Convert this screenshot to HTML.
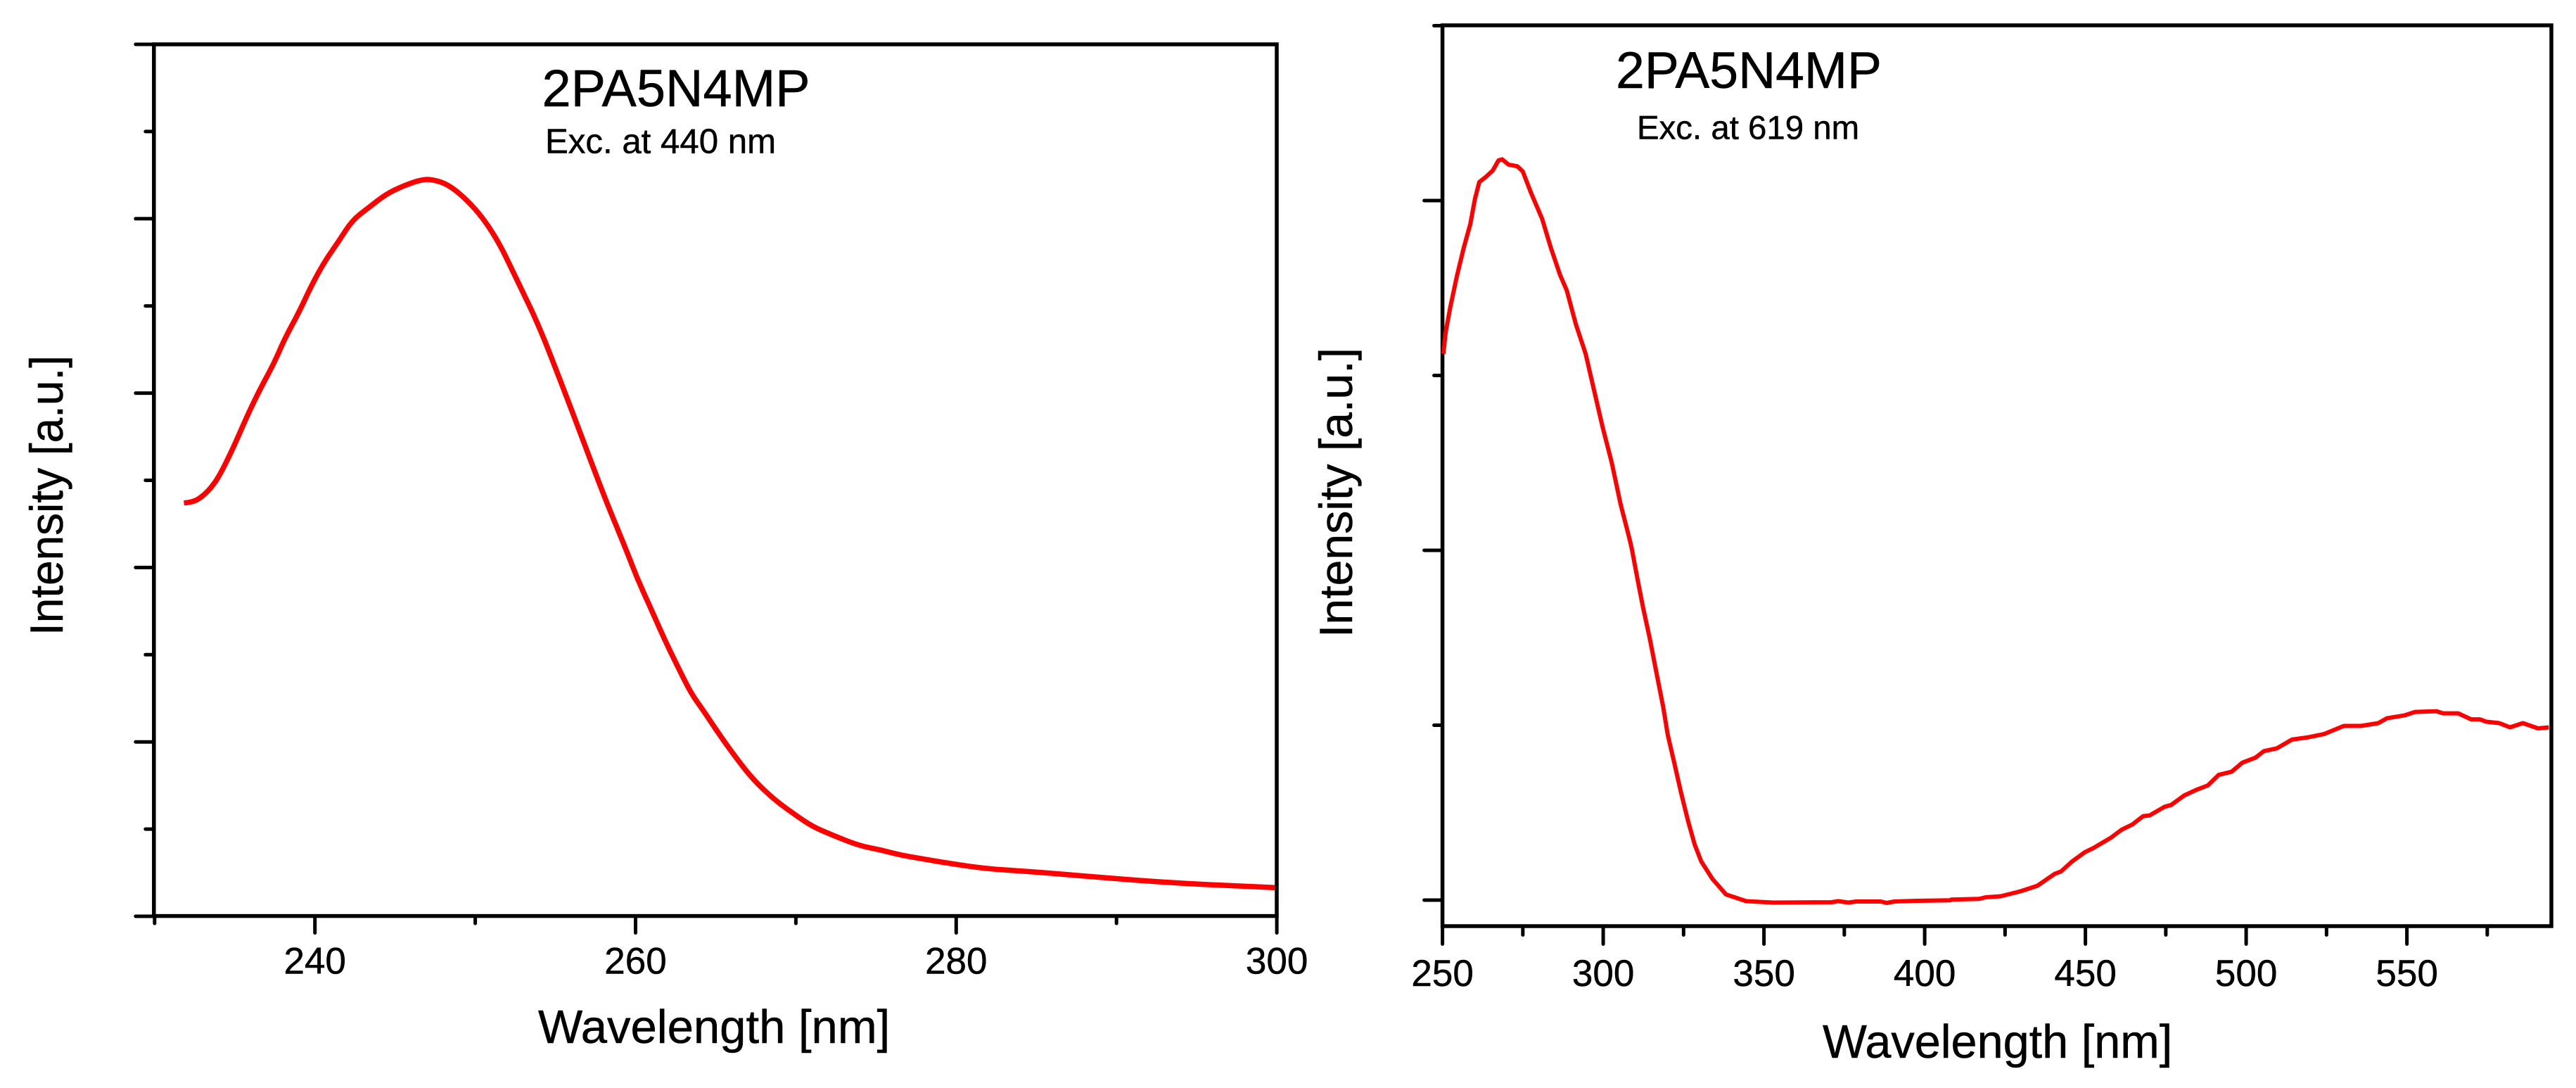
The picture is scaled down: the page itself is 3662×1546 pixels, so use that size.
<!DOCTYPE html>
<html lang="en">
<head>
<meta charset="utf-8">
<title>2PA5N4MP excitation spectra</title>
<style>
html,body{margin:0;padding:0;background:#fff;}
svg{display:block;}
text{font-family:"Liberation Sans",Arial,sans-serif;fill:#000;stroke:#000;stroke-width:0.5px;}
</style>
</head>
<body>
<svg id="chart" xmlns="http://www.w3.org/2000/svg" width="3662" height="1546" viewBox="0 0 3662 1546">
  <rect x="0" y="0" width="3662" height="1546" fill="#fff"/>

  <g id="left-panel">
    <text x="770.5" y="151" font-size="74">2PA5N4MP</text>
    <text x="775" y="217.5" font-size="49.2">Exc. at 440 nm</text>
    <text x="765" y="1482" font-size="67">Wavelength [nm]</text>
    <text transform="translate(89 903) rotate(-90)" font-size="66" textLength="398" lengthAdjust="spacingAndGlyphs">Intensity [a.u.]</text>
  </g>

  <g id="right-panel">
    <text x="2297" y="125" font-size="73.4">2PA5N4MP</text>
    <text x="2327" y="197.5" font-size="47.4">Exc. at 619 nm</text>
    <text x="2591" y="1503" font-size="66.6">Wavelength [nm]</text>
    <text transform="translate(1922 906) rotate(-90)" font-size="66" textLength="412" lengthAdjust="spacingAndGlyphs">Intensity [a.u.]</text>
  </g>
</svg>

<script>
// ---- Left panel data (wavelength in nm, intensity in a.u.) ----
const leftWavelengths = [231.83,232.39,232.95,233.51,234.07,234.9,235.75,236.59,237.42,238.13,238.96,239.8,240.64,241.48,242.32,243.3,244.42,245.54,246.66,247.36,248.34,249.46,250.52,251.56,252.54,253.94,255.34,256.74,258.14,259.4,260.09,260.93,261.77,262.61,263.45,264.23,265.24,266.38,267.38,268.64,269.9,271.03,272.29,273.93,275.32,276.58,277.84,279.6,281.87,284.39,286.9,289.42,291.94,294.46,296.98,299.87];
const leftIntensity = [47.4,47.5,48.1,49.1,50.6,53.7,57.3,60.5,63.3,66.3,69.1,72.4,75.2,77.4,79.8,81.2,82.8,83.8,84.5,84.5,83.9,82.2,80,77,73.2,67.9,61.3,54.5,47.7,42.1,38.8,35.4,31.9,28.7,25.6,23.6,20.8,17.9,15.6,13.4,11.7,10.3,9.3,8.1,7.6,7,6.6,6.05,5.46,5.15,4.79,4.4,4.04,3.74,3.53,3.29];
const leftXMajorTicks = [240,260,280,300];
const leftXMinorTicks = [230,250,270,290];
const leftYMajorTicks = [0,20,40,60,80,100];
const leftYMinorTicks = [10,30,50,70,90];

// ---- Right panel data (wavelength in nm, intensity in a.u.) ----
const rightWavelengths = [250.28,250.98,252.38,254.46,256.56,258.67,260.06,261.44,263.54,265.64,267.46,268.58,270.53,273.3,274.99,277.5,280.98,283.78,286.56,288.66,291.44,294.53,297.05,299.83,302.63,305.4,308.2,308.9,310.72,312.39,314.49,316.57,318.67,320.06,322.16,324.25,326.35,328.44,330.53,334.03,338.2,344.49,352.87,371,373.08,376.3,378.66,386.34,388.16,390.55,397.5,407.99,408.2,416.94,418.95,423.65,429.7,435.06,440.44,442.45,445.8,449.82,452.52,457.88,461.23,464.59,467.94,469.96,474.66,476.67,480.7,484.72,488.1,491.45,495.47,498.82,502.85,505.54,509.56,514.27,518.97,524.33,530.37,535.73,541.11,543.8,549.17,552.52,559.23,561.25,565.95,569.98,572.67,574.68,578.71,582.07,586.09,590.79,594.14];
const rightIntensity = [156.2,162.3,169.3,178.3,186.3,193.3,200.3,205.3,206.8,208.6,211.5,211.8,210.3,209.8,208.3,202.3,194.8,186.3,178.8,174.3,164.8,156.2,146.2,135.2,125.2,113.2,103.2,100.4,91.5,83.7,74.8,65,55.2,47.3,39,30.6,22.8,15.9,11,6,1.6,-0.3,-0.7,-0.6,-0.3,-0.7,-0.4,-0.4,-0.8,-0.4,-0.2,-0.05,0.15,0.35,0.8,1.1,2.5,4.1,7.5,8.2,11,13.7,14.9,17.8,20.1,21.6,24,24.2,26.7,27.2,29.9,31.6,32.8,35.8,36.7,39.3,40.7,42.6,43.4,45.9,46.5,47.5,49.8,49.8,50.6,52,52.8,53.8,54,53.4,53.4,51.7,51.7,51,50.6,49.4,50.6,49.1,49.4];
const rightXMajorTicks = [250,300,350,400,450,500,550];
const rightXMinorTicks = [275,325,375,425,475,525,575];
const rightYMajorTicks = [0,100,200];
const rightYMinorTicks = [50,150,250];

// ---- Axis functions ----
const leftX = w => 447.7 + 22.79 * (w - 240);
const leftY = v => 1302 - 12.39 * v;
const rightX = w => 2050.6 + 4.57 * (w - 250);
const rightY = v => 1279 - 4.97 * v;

const NS = 'http://www.w3.org/2000/svg';

function drawLine(parent, x1, y1, x2, y2, width) {
  const l = document.createElementNS(NS, 'line');
  l.setAttribute('x1', x1);
  l.setAttribute('y1', y1);
  l.setAttribute('x2', x2);
  l.setAttribute('y2', y2);
  l.setAttribute('stroke', '#000');
  l.setAttribute('stroke-width', width);
  l.setAttribute('stroke-linecap', 'round');
  parent.appendChild(l);
  return l;
}

function curvePath(xs, ys, smooth) {
  let d = 'M' + xs[0].toFixed(1) + ' ' + ys[0].toFixed(1);
  for (let i = 1; i < xs.length; i++) {
    if (smooth && i < xs.length - 1) {
      const mx = (xs[i] + xs[i + 1]) / 2;
      const my = (ys[i] + ys[i + 1]) / 2;
      d += 'Q' + xs[i].toFixed(1) + ' ' + ys[i].toFixed(1) + ' ' + mx.toFixed(1) + ' ' + my.toFixed(1);
    } else {
      d += 'L' + xs[i].toFixed(1) + ' ' + ys[i].toFixed(1);
    }
  }
  return d;
}

function drawPanel(panelId, prefix, cfg) {
  const panel = document.getElementById(panelId);

  const frame = document.createElementNS(NS, 'rect');
  
  
  frame.setAttribute('x', cfg.left);
  frame.setAttribute('y', cfg.top);
  frame.setAttribute('width', cfg.right - cfg.left);
  frame.setAttribute('height', cfg.bottom - cfg.top);
  frame.setAttribute('fill', 'none');
  frame.setAttribute('stroke', '#000');
  frame.setAttribute('stroke-width', 5.5);
  panel.appendChild(frame);

  cfg.xMajor.forEach(t => {
    const px = cfg.x(t);
    const tick = drawLine(panel, px, cfg.bottom, px, cfg.bottom + cfg.xMajorLen, 5);
    
    
    const label = document.createElementNS(NS, 'text');
    
    
    label.setAttribute('x', px);
    label.setAttribute('y', cfg.labelY);
    label.setAttribute('font-size', 53);
    label.setAttribute('text-anchor', 'middle');
    label.textContent = t;
    panel.appendChild(label);
  });
  cfg.xMinor.forEach(t => {
    const px = cfg.x(t);
    const tick = drawLine(panel, px, cfg.bottom, px, cfg.bottom + cfg.xMinorLen, 5);
    
    
  });
  cfg.yMajor.forEach(t => {
    const py = cfg.y(t);
    const tick = drawLine(panel, cfg.left - 26, py, cfg.left, py, 5);
    
    
  });
  cfg.yMinor.forEach(t => {
    const py = cfg.y(t);
    const tick = drawLine(panel, cfg.left - 12, py, cfg.left, py, 5);
    
    
  });

  const curve = document.createElementNS(NS, 'path');
  
  
  curve.setAttribute('d', curvePath(cfg.wavelengths.map(cfg.x), cfg.intensity.map(cfg.y), cfg.smooth));
  curve.setAttribute('fill', 'none');
  curve.setAttribute('stroke', '#ff0000');
  curve.setAttribute('stroke-width', cfg.lineWidth);
  curve.setAttribute('stroke-linejoin', 'round');
  panel.appendChild(curve);
}

drawPanel('left-panel', 'left', {
  left: 218.8, right: 1815, top: 63, bottom: 1301.6,
  x: leftX, y: leftY,
  xMajor: leftXMajorTicks, xMinor: leftXMinorTicks,
  yMajor: leftYMajorTicks, yMinor: leftYMinorTicks,
  xMajorLen: 24, xMinorLen: 10.5, labelY: 1383.5,
  wavelengths: leftWavelengths, intensity: leftIntensity, lineWidth: 7.5, smooth: true
});

drawPanel('right-panel', 'right', {
  left: 2050.6, right: 3627, top: 36, bottom: 1316,
  x: rightX, y: rightY,
  xMajor: rightXMajorTicks, xMinor: rightXMinorTicks,
  yMajor: rightYMajorTicks, yMinor: rightYMinorTicks,
  xMajorLen: 25.5, xMinorLen: 12.5, labelY: 1401,
  wavelengths: rightWavelengths, intensity: rightIntensity, lineWidth: 6, smooth: false
});
</script>
</body>
</html>
